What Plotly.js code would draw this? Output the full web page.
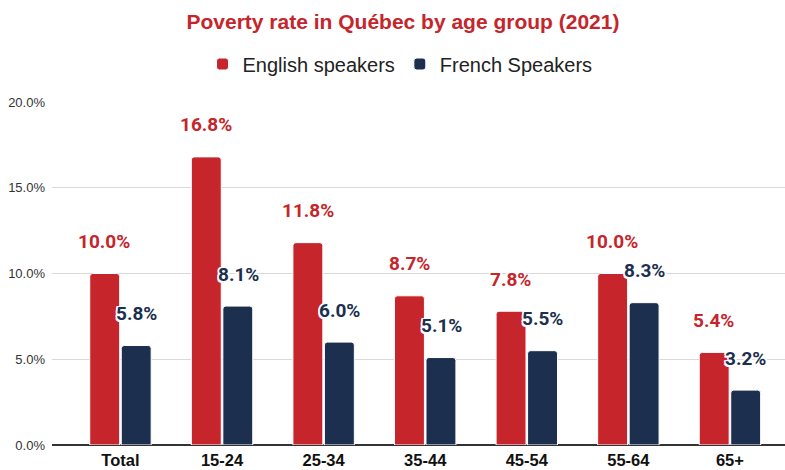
<!DOCTYPE html>
<html>
<head>
<meta charset="utf-8">
<script src="https://cdn.plot.ly/plotly-3.0.1.min.js"></script>
<style>html,body{margin:0;padding:0;background:#fff;}#chart{width:785px;height:470px;}</style>
</head>
<body>
<div id="chart"></div>
<script>
const categories = ["Total", "15-24", "25-34", "35-44", "45-54", "55-64", "65+"];
const englishSpeakers = [10.0, 16.8, 11.8, 8.7, 7.8, 10.0, 5.4];
const frenchSpeakers = [5.8, 8.1, 6.0, 5.1, 5.5, 8.3, 3.2];
const yTickValues = [0, 5, 10, 15, 20];
const yTickLabels = ["0.0%", "5.0%", "10.0%", "15.0%", "20.0%"];

const RED = "#c5252b";
const NAVY = "#1c2f4f";
const shadow = "1.5px 1.5px 0 #fff, -1.5px -1.5px 0 #fff, 1.5px -1.5px 0 #fff, -1.5px 1.5px 0 #fff, 0 1.5px 0 #fff, 0 -1.5px 0 #fff, 1.5px 0 0 #fff, -1.5px 0 0 #fff";

const traces = [
  {type: "bar", name: "English speakers", x: categories, y: englishSpeakers,
   marker: {color: RED, line: {color: "#fff", width: 1}, cornerradius: 3}, hoverinfo: "skip"},
  {type: "bar", name: "French Speakers", x: categories, y: frenchSpeakers,
   marker: {color: NAVY, line: {color: "#fff", width: 1}, cornerradius: 3}, hoverinfo: "skip"}
];

const annotations = [];
categories.forEach((c, i) => {
  annotations.push({x: c, y: englishSpeakers[i], xref: "x", yref: "y", text: englishSpeakers[i].toFixed(1) + "%",
    showarrow: false, xshift: -16, yshift: 32, yanchor: "middle",
    font: {family: "Roboto", size: 19, weight: "bold", color: RED, shadow: shadow}});
  annotations.push({x: c, y: frenchSpeakers[i], xref: "x", yref: "y", text: frenchSpeakers[i].toFixed(1) + "%",
    showarrow: false, xshift: 16, yshift: 32, yanchor: "middle",
    font: {family: "Roboto", size: 19, weight: "bold", color: NAVY, shadow: shadow}});
});

const layout = {
  width: 785, height: 470,
  margin: {l: 52, r: 0, t: 102, b: 25, autoexpand: false},
  paper_bgcolor: "#fff", plot_bgcolor: "#fff",
  title: {text: "<b>Poverty rate in Québec by age group (2021)</b>", x: 403/785, xanchor: "center", xref: "container",
    y: 1 - 22/470, yanchor: "middle", yref: "container", automargin: false,
    font: {family: "Liberation Sans", size: 21, color: RED}},
  showlegend: true,
  legend: {orientation: "h", x: (400 - 52) / 733, xanchor: "center", y: 1 + 38/343, yanchor: "middle",
    font: {family: "Liberation Sans", size: 20, color: "#222"}, traceorder: "normal", itemwidth: 30},
  barmode: "group", bargap: 0.38, bargroupgap: 0.05,
  xaxis: {type: "category", range: [-0.674, 6.542], showgrid: false, zeroline: false, automargin: false, tickangle: 0,
    showline: false, ticks: "", ticklabelstandoff: 3,
    tickfont: {family: "Liberation Sans", size: 16.5, weight: "bold", color: "#111"}, fixedrange: true},
  yaxis: {range: [0, 20], tickvals: yTickValues, ticktext: yTickLabels, showgrid: true, gridcolor: "#d9d9d9",
    gridwidth: 1, zeroline: true, zerolinecolor: "#333", zerolinewidth: 1.2, showline: false, ticks: "",
    automargin: false, ticklabelstandoff: 6,
    tickfont: {family: "Liberation Sans", size: 13, color: "#333"}, fixedrange: true},
  annotations: annotations
};

Plotly.newPlot("chart", traces, layout, {displayModeBar: false, staticPlot: true});
</script>
</body>
</html>
